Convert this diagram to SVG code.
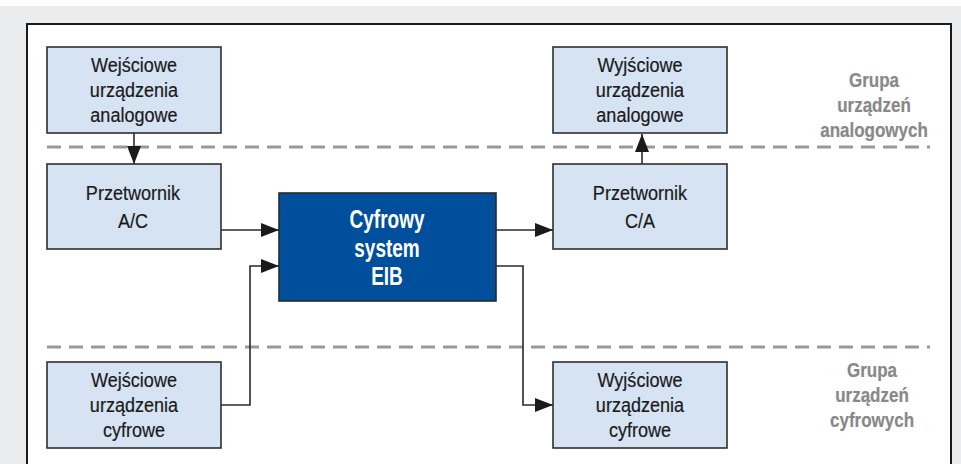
<svg xmlns="http://www.w3.org/2000/svg" width="961" height="464" viewBox="0 0 961 464">
  <defs>
    <marker id="arrow" viewBox="0 0 18 14" refX="18" refY="7" markerWidth="18" markerHeight="14" markerUnits="userSpaceOnUse" orient="auto">
      <path d="M0,0 L18,7 L0,14 Z" fill="#1a1a1a"/>
    </marker>
    <style>
      .box { fill: #d5e3f3; stroke: #2f2f2f; stroke-width: 1.6; }
      .core { fill: #004f9c; stroke: #2a2a2a; stroke-width: 1.6; }
      text { font-family: "Liberation Sans", Arial, sans-serif; text-anchor: middle; }
      .label { font-size: 21px; fill: #1a1a1a; stroke: #1a1a1a; stroke-width: 0.2; }
      .core-label { font-size: 25px; font-weight: bold; fill: #ffffff; }
      .group-label { font-size: 20px; font-weight: bold; fill: #888888; stroke: #888888; stroke-width: 0.2; }
      .divider { stroke: #999999; stroke-width: 3; stroke-dasharray: 14 8; fill: none; }
      .link { stroke: #2a2a2a; stroke-width: 1.6; fill: none; marker-end: url(#arrow); }
    </style>
  </defs>

  <!-- page backdrop and framed panel -->
  <rect x="0" y="0" width="961" height="464" fill="#ffffff"/>
  <rect x="0" y="6" width="961" height="458" fill="#ebeced"/>
  <rect x="27" y="24" width="924" height="450" fill="#ffffff" stroke="#1a1a1a" stroke-width="2"/>

  <!-- group separators -->
  <line class="divider" x1="47" y1="147" x2="930" y2="147"/>
  <line class="divider" x1="47" y1="347" x2="930" y2="347"/>

  <!-- group captions (condensed by horizontal scaling) -->
  <g id="group-analog" transform="translate(874 0) scale(0.85 1)">
    <text class="group-label" x="0" y="87">Grupa</text>
    <text class="group-label" x="0" y="112">urządzeń</text>
    <text class="group-label" x="0" y="137">analogowych</text>
  </g>
  <g id="group-digital" transform="translate(872 0) scale(0.85 1)">
    <text class="group-label" x="0" y="377">Grupa</text>
    <text class="group-label" x="0" y="402">urządzeń</text>
    <text class="group-label" x="0" y="427">cyfrowych</text>
  </g>

  <!-- connectors -->
  <g id="connectors">
    <line class="link" x1="134" y1="133" x2="134" y2="164"/>
    <line class="link" x1="642" y1="165" x2="642" y2="134"/>
    <line class="link" x1="221" y1="230" x2="279" y2="230"/>
    <line class="link" x1="496" y1="230" x2="553" y2="230"/>
    <polyline class="link" points="221,405 250,405 250,266 279,266"/>
    <polyline class="link" points="496,266 523,266 523,405 553,405"/>
  </g>

  <!-- nodes -->
  <g id="analog-inputs">
    <rect class="box" x="47" y="47" width="174" height="86"/>
    <g transform="translate(134 0) scale(0.86 1)">
      <text class="label" x="0" y="72">Wejściowe</text>
      <text class="label" x="0" y="97">urządzenia</text>
      <text class="label" x="0" y="122">analogowe</text>
    </g>
  </g>
  <g id="analog-outputs">
    <rect class="box" x="553" y="47" width="174" height="86"/>
    <g transform="translate(640 0) scale(0.86 1)">
      <text class="label" x="0" y="72">Wyjściowe</text>
      <text class="label" x="0" y="97">urządzenia</text>
      <text class="label" x="0" y="122">analogowe</text>
    </g>
  </g>
  <g id="adc">
    <rect class="box" x="47" y="164" width="174" height="85"/>
    <g transform="translate(133 0) scale(0.86 1)">
      <text class="label" x="0" y="200">Przetwornik</text>
      <text class="label" x="0" y="228">A/C</text>
    </g>
  </g>
  <g id="dac">
    <rect class="box" x="553" y="164" width="174" height="85"/>
    <g transform="translate(640 0) scale(0.86 1)">
      <text class="label" x="0" y="200">Przetwornik</text>
      <text class="label" x="0" y="228">C/A</text>
    </g>
  </g>
  <g id="eib">
    <rect class="core" x="279" y="193" width="217" height="108"/>
    <g transform="translate(387 0) scale(0.76 1)">
      <text class="core-label" x="0" y="228">Cyfrowy</text>
      <text class="core-label" x="0" y="257">system</text>
      <text class="core-label" x="0" y="285">EIB</text>
    </g>
  </g>
  <g id="digital-inputs">
    <rect class="box" x="47" y="362" width="174" height="86"/>
    <g transform="translate(134 0) scale(0.86 1)">
      <text class="label" x="0" y="387">Wejściowe</text>
      <text class="label" x="0" y="412">urządzenia</text>
      <text class="label" x="0" y="437">cyfrowe</text>
    </g>
  </g>
  <g id="digital-outputs">
    <rect class="box" x="553" y="362" width="174" height="86"/>
    <g transform="translate(640 0) scale(0.86 1)">
      <text class="label" x="0" y="387">Wyjściowe</text>
      <text class="label" x="0" y="412">urządzenia</text>
      <text class="label" x="0" y="437">cyfrowe</text>
    </g>
  </g>
</svg>
